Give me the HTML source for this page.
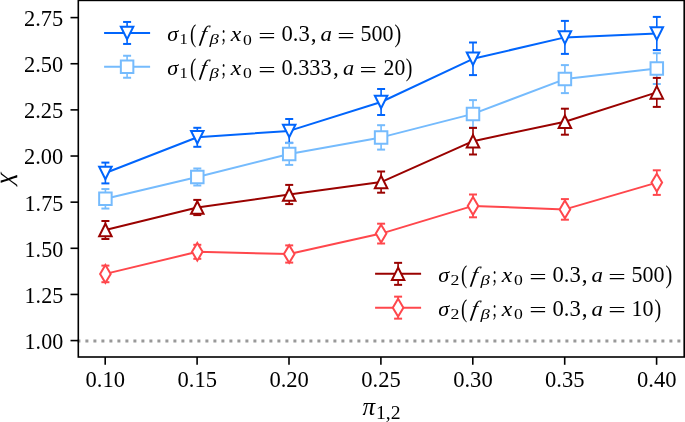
<!DOCTYPE html>
<html lang="en"><head><meta charset="utf-8"><title>chart</title>
<style>html,body{margin:0;padding:0;background:#fff;overflow:hidden}svg{display:block}</style>
</head><body>
<svg width="685" height="422" viewBox="0 0 685 422" style="will-change:transform">
<rect width="685" height="422" fill="#fff"/>
<path d="M77.4 340.93H684.2" stroke="#999" stroke-width="3" stroke-dasharray="3 5" fill="none"/>
<g>
<path d="M105.4 162.6V183.4" stroke="#0165fc" stroke-width="1.6" fill="none"/><path d="M101.4 162.6H109.4" stroke="#0165fc" stroke-width="2" fill="none"/><path d="M101.4 183.4H109.4" stroke="#0165fc" stroke-width="2" fill="none"/>
<path d="M197.3 127.8V146.8" stroke="#0165fc" stroke-width="1.6" fill="none"/><path d="M193.3 127.8H201.3" stroke="#0165fc" stroke-width="2" fill="none"/><path d="M193.3 146.8H201.3" stroke="#0165fc" stroke-width="2" fill="none"/>
<path d="M289.2 119V142.8" stroke="#0165fc" stroke-width="1.6" fill="none"/><path d="M285.2 119H293.2" stroke="#0165fc" stroke-width="2" fill="none"/><path d="M285.2 142.8H293.2" stroke="#0165fc" stroke-width="2" fill="none"/>
<path d="M381.1 89V115" stroke="#0165fc" stroke-width="1.6" fill="none"/><path d="M377.1 89H385.1" stroke="#0165fc" stroke-width="2" fill="none"/><path d="M377.1 115H385.1" stroke="#0165fc" stroke-width="2" fill="none"/>
<path d="M473 42.5V75.1" stroke="#0165fc" stroke-width="1.6" fill="none"/><path d="M469 42.5H477" stroke="#0165fc" stroke-width="2" fill="none"/><path d="M469 75.1H477" stroke="#0165fc" stroke-width="2" fill="none"/>
<path d="M564.9 20.9V53.9" stroke="#0165fc" stroke-width="1.6" fill="none"/><path d="M560.9 20.9H568.9" stroke="#0165fc" stroke-width="2" fill="none"/><path d="M560.9 53.9H568.9" stroke="#0165fc" stroke-width="2" fill="none"/>
<path d="M656.8 16.9V50.1" stroke="#0165fc" stroke-width="1.6" fill="none"/><path d="M652.8 16.9H660.8" stroke="#0165fc" stroke-width="2" fill="none"/><path d="M652.8 50.1H660.8" stroke="#0165fc" stroke-width="2" fill="none"/>
</g>
<g>
<path d="M105.4 189.05V208.55" stroke="#75bbfd" stroke-width="1.6" fill="none"/><path d="M101.4 189.05H109.4" stroke="#75bbfd" stroke-width="2" fill="none"/><path d="M101.4 208.55H109.4" stroke="#75bbfd" stroke-width="2" fill="none"/>
<path d="M197.3 168.5V185.5" stroke="#75bbfd" stroke-width="1.6" fill="none"/><path d="M193.3 168.5H201.3" stroke="#75bbfd" stroke-width="2" fill="none"/><path d="M193.3 185.5H201.3" stroke="#75bbfd" stroke-width="2" fill="none"/>
<path d="M289.2 143.1V164.9" stroke="#75bbfd" stroke-width="1.6" fill="none"/><path d="M285.2 143.1H293.2" stroke="#75bbfd" stroke-width="2" fill="none"/><path d="M285.2 164.9H293.2" stroke="#75bbfd" stroke-width="2" fill="none"/>
<path d="M381.1 125.2V149.6" stroke="#75bbfd" stroke-width="1.6" fill="none"/><path d="M377.1 125.2H385.1" stroke="#75bbfd" stroke-width="2" fill="none"/><path d="M377.1 149.6H385.1" stroke="#75bbfd" stroke-width="2" fill="none"/>
<path d="M473 100.1V127.7" stroke="#75bbfd" stroke-width="1.6" fill="none"/><path d="M469 100.1H477" stroke="#75bbfd" stroke-width="2" fill="none"/><path d="M469 127.7H477" stroke="#75bbfd" stroke-width="2" fill="none"/>
<path d="M564.9 65.1V93.1" stroke="#75bbfd" stroke-width="1.6" fill="none"/><path d="M560.9 65.1H568.9" stroke="#75bbfd" stroke-width="2" fill="none"/><path d="M560.9 93.1H568.9" stroke="#75bbfd" stroke-width="2" fill="none"/>
<path d="M656.8 53.2V84" stroke="#75bbfd" stroke-width="1.6" fill="none"/><path d="M652.8 53.2H660.8" stroke="#75bbfd" stroke-width="2" fill="none"/><path d="M652.8 84H660.8" stroke="#75bbfd" stroke-width="2" fill="none"/>
</g>
<g>
<path d="M105.4 221V239" stroke="#9a0200" stroke-width="1.6" fill="none"/><path d="M101.4 221H109.4" stroke="#9a0200" stroke-width="2" fill="none"/><path d="M101.4 239H109.4" stroke="#9a0200" stroke-width="2" fill="none"/>
<path d="M197.3 199.9V215.1" stroke="#9a0200" stroke-width="1.6" fill="none"/><path d="M193.3 199.9H201.3" stroke="#9a0200" stroke-width="2" fill="none"/><path d="M193.3 215.1H201.3" stroke="#9a0200" stroke-width="2" fill="none"/>
<path d="M289.2 184.9V204.1" stroke="#9a0200" stroke-width="1.6" fill="none"/><path d="M285.2 184.9H293.2" stroke="#9a0200" stroke-width="2" fill="none"/><path d="M285.2 204.1H293.2" stroke="#9a0200" stroke-width="2" fill="none"/>
<path d="M381.1 171.5V192.7" stroke="#9a0200" stroke-width="1.6" fill="none"/><path d="M377.1 171.5H385.1" stroke="#9a0200" stroke-width="2" fill="none"/><path d="M377.1 192.7H385.1" stroke="#9a0200" stroke-width="2" fill="none"/>
<path d="M473 127.9V154.5" stroke="#9a0200" stroke-width="1.6" fill="none"/><path d="M469 127.9H477" stroke="#9a0200" stroke-width="2" fill="none"/><path d="M469 154.5H477" stroke="#9a0200" stroke-width="2" fill="none"/>
<path d="M564.9 108.7V134.7" stroke="#9a0200" stroke-width="1.6" fill="none"/><path d="M560.9 108.7H568.9" stroke="#9a0200" stroke-width="2" fill="none"/><path d="M560.9 134.7H568.9" stroke="#9a0200" stroke-width="2" fill="none"/>
<path d="M656.8 77.9V106.9" stroke="#9a0200" stroke-width="1.6" fill="none"/><path d="M652.8 77.9H660.8" stroke="#9a0200" stroke-width="2" fill="none"/><path d="M652.8 106.9H660.8" stroke="#9a0200" stroke-width="2" fill="none"/>
</g>
<g>
<path d="M105.4 265.6V282.2" stroke="#ff474c" stroke-width="1.6" fill="none"/><path d="M101.4 265.6H109.4" stroke="#ff474c" stroke-width="2" fill="none"/><path d="M101.4 282.2H109.4" stroke="#ff474c" stroke-width="2" fill="none"/>
<path d="M197.3 244.8V258.8" stroke="#ff474c" stroke-width="1.6" fill="none"/><path d="M193.3 244.8H201.3" stroke="#ff474c" stroke-width="2" fill="none"/><path d="M193.3 258.8H201.3" stroke="#ff474c" stroke-width="2" fill="none"/>
<path d="M289.2 245.4V262.6" stroke="#ff474c" stroke-width="1.6" fill="none"/><path d="M285.2 245.4H293.2" stroke="#ff474c" stroke-width="2" fill="none"/><path d="M285.2 262.6H293.2" stroke="#ff474c" stroke-width="2" fill="none"/>
<path d="M381.1 223.7V243.5" stroke="#ff474c" stroke-width="1.6" fill="none"/><path d="M377.1 223.7H385.1" stroke="#ff474c" stroke-width="2" fill="none"/><path d="M377.1 243.5H385.1" stroke="#ff474c" stroke-width="2" fill="none"/>
<path d="M473 194.5V217.3" stroke="#ff474c" stroke-width="1.6" fill="none"/><path d="M469 194.5H477" stroke="#ff474c" stroke-width="2" fill="none"/><path d="M469 217.3H477" stroke="#ff474c" stroke-width="2" fill="none"/>
<path d="M564.9 199.1V219.7" stroke="#ff474c" stroke-width="1.6" fill="none"/><path d="M560.9 199.1H568.9" stroke="#ff474c" stroke-width="2" fill="none"/><path d="M560.9 219.7H568.9" stroke="#ff474c" stroke-width="2" fill="none"/>
<path d="M656.8 170.3V194.9" stroke="#ff474c" stroke-width="1.6" fill="none"/><path d="M652.8 170.3H660.8" stroke="#ff474c" stroke-width="2" fill="none"/><path d="M652.8 194.9H660.8" stroke="#ff474c" stroke-width="2" fill="none"/>
</g>
<g>
<polyline points="105.4,173 197.3,137.3 289.2,130.9 381.1,102 473,58.8 564.9,37.4 656.8,33.5" fill="none" stroke="#0165fc" stroke-width="2" stroke-linejoin="round"/>
<polygon points="105.4,179.25 99.15,166.75 111.65,166.75" fill="#fff" stroke="#0165fc" stroke-width="2" stroke-linejoin="miter" stroke-miterlimit="10"/>
<polygon points="197.3,143.55 191.05,131.05 203.55,131.05" fill="#fff" stroke="#0165fc" stroke-width="2" stroke-linejoin="miter" stroke-miterlimit="10"/>
<polygon points="289.2,137.15 282.95,124.65 295.45,124.65" fill="#fff" stroke="#0165fc" stroke-width="2" stroke-linejoin="miter" stroke-miterlimit="10"/>
<polygon points="381.1,108.25 374.85,95.75 387.35,95.75" fill="#fff" stroke="#0165fc" stroke-width="2" stroke-linejoin="miter" stroke-miterlimit="10"/>
<polygon points="473,65.05 466.75,52.55 479.25,52.55" fill="#fff" stroke="#0165fc" stroke-width="2" stroke-linejoin="miter" stroke-miterlimit="10"/>
<polygon points="564.9,43.65 558.65,31.15 571.15,31.15" fill="#fff" stroke="#0165fc" stroke-width="2" stroke-linejoin="miter" stroke-miterlimit="10"/>
<polygon points="656.8,39.75 650.55,27.25 663.05,27.25" fill="#fff" stroke="#0165fc" stroke-width="2" stroke-linejoin="miter" stroke-miterlimit="10"/>
</g>
<g>
<polyline points="105.4,198.8 197.3,177 289.2,154 381.1,137.4 473,113.9 564.9,79.1 656.8,68.6" fill="none" stroke="#75bbfd" stroke-width="2" stroke-linejoin="round"/>
<polygon points="99.15,192.55 111.65,192.55 111.65,205.05 99.15,205.05" fill="#fff" stroke="#75bbfd" stroke-width="2" stroke-linejoin="miter" stroke-miterlimit="10"/>
<polygon points="191.05,170.75 203.55,170.75 203.55,183.25 191.05,183.25" fill="#fff" stroke="#75bbfd" stroke-width="2" stroke-linejoin="miter" stroke-miterlimit="10"/>
<polygon points="282.95,147.75 295.45,147.75 295.45,160.25 282.95,160.25" fill="#fff" stroke="#75bbfd" stroke-width="2" stroke-linejoin="miter" stroke-miterlimit="10"/>
<polygon points="374.85,131.15 387.35,131.15 387.35,143.65 374.85,143.65" fill="#fff" stroke="#75bbfd" stroke-width="2" stroke-linejoin="miter" stroke-miterlimit="10"/>
<polygon points="466.75,107.65 479.25,107.65 479.25,120.15 466.75,120.15" fill="#fff" stroke="#75bbfd" stroke-width="2" stroke-linejoin="miter" stroke-miterlimit="10"/>
<polygon points="558.65,72.85 571.15,72.85 571.15,85.35 558.65,85.35" fill="#fff" stroke="#75bbfd" stroke-width="2" stroke-linejoin="miter" stroke-miterlimit="10"/>
<polygon points="650.55,62.35 663.05,62.35 663.05,74.85 650.55,74.85" fill="#fff" stroke="#75bbfd" stroke-width="2" stroke-linejoin="miter" stroke-miterlimit="10"/>
</g>
<g>
<polyline points="105.4,230 197.3,207.5 289.2,194.5 381.1,182.1 473,141.2 564.9,121.7 656.8,92.4" fill="none" stroke="#9a0200" stroke-width="2" stroke-linejoin="round"/>
<polygon points="105.4,223.75 99.15,236.25 111.65,236.25" fill="#fff" stroke="#9a0200" stroke-width="2" stroke-linejoin="miter" stroke-miterlimit="10"/>
<polygon points="197.3,201.25 191.05,213.75 203.55,213.75" fill="#fff" stroke="#9a0200" stroke-width="2" stroke-linejoin="miter" stroke-miterlimit="10"/>
<polygon points="289.2,188.25 282.95,200.75 295.45,200.75" fill="#fff" stroke="#9a0200" stroke-width="2" stroke-linejoin="miter" stroke-miterlimit="10"/>
<polygon points="381.1,175.85 374.85,188.35 387.35,188.35" fill="#fff" stroke="#9a0200" stroke-width="2" stroke-linejoin="miter" stroke-miterlimit="10"/>
<polygon points="473,134.95 466.75,147.45 479.25,147.45" fill="#fff" stroke="#9a0200" stroke-width="2" stroke-linejoin="miter" stroke-miterlimit="10"/>
<polygon points="564.9,115.45 558.65,127.95 571.15,127.95" fill="#fff" stroke="#9a0200" stroke-width="2" stroke-linejoin="miter" stroke-miterlimit="10"/>
<polygon points="656.8,86.15 650.55,98.65 663.05,98.65" fill="#fff" stroke="#9a0200" stroke-width="2" stroke-linejoin="miter" stroke-miterlimit="10"/>
</g>
<g>
<polyline points="105.4,273.9 197.3,251.8 289.2,254 381.1,233.6 473,205.9 564.9,209.4 656.8,182.6" fill="none" stroke="#ff474c" stroke-width="2" stroke-linejoin="round"/>
<polygon points="105.4,265.06 110.7,273.9 105.4,282.74 100.1,273.9" fill="#fff" stroke="#ff474c" stroke-width="2" stroke-linejoin="miter" stroke-miterlimit="10"/>
<polygon points="197.3,242.96 202.6,251.8 197.3,260.64 192,251.8" fill="#fff" stroke="#ff474c" stroke-width="2" stroke-linejoin="miter" stroke-miterlimit="10"/>
<polygon points="289.2,245.16 294.5,254 289.2,262.84 283.9,254" fill="#fff" stroke="#ff474c" stroke-width="2" stroke-linejoin="miter" stroke-miterlimit="10"/>
<polygon points="381.1,224.76 386.4,233.6 381.1,242.44 375.8,233.6" fill="#fff" stroke="#ff474c" stroke-width="2" stroke-linejoin="miter" stroke-miterlimit="10"/>
<polygon points="473,197.06 478.3,205.9 473,214.74 467.7,205.9" fill="#fff" stroke="#ff474c" stroke-width="2" stroke-linejoin="miter" stroke-miterlimit="10"/>
<polygon points="564.9,200.56 570.2,209.4 564.9,218.24 559.6,209.4" fill="#fff" stroke="#ff474c" stroke-width="2" stroke-linejoin="miter" stroke-miterlimit="10"/>
<polygon points="656.8,173.76 662.1,182.6 656.8,191.44 651.5,182.6" fill="#fff" stroke="#ff474c" stroke-width="2" stroke-linejoin="miter" stroke-miterlimit="10"/>
</g>
<g stroke="#000" stroke-width="1.6" fill="none">
<path d="M105.2 357v7.8"/>
<path d="M197.1 357v7.8"/>
<path d="M289 357v7.8"/>
<path d="M380.9 357v7.8"/>
<path d="M472.8 357v7.8"/>
<path d="M564.7 357v7.8"/>
<path d="M656.6 357v7.8"/>
<path d="M78.3 17.6h-7.8"/>
<path d="M78.3 63.74h-7.8"/>
<path d="M78.3 109.88h-7.8"/>
<path d="M78.3 156.02h-7.8"/>
<path d="M78.3 202.16h-7.8"/>
<path d="M78.3 248.3h-7.8"/>
<path d="M78.3 294.44h-7.8"/>
<path d="M78.3 340.58h-7.8"/>
<rect x="78.3" y="0.4" width="605.9" height="356.6" stroke-linejoin="miter"/>
</g>
<g font-family="'Liberation Serif', serif" fill="#000" style="filter:grayscale(1)">
<text transform="translate(85.59 387.3) scale(1.0266 1.06)" font-size="22" style="">0.10</text>
<text transform="translate(177.49 387.3) scale(1.0266 1.06)" font-size="22" style="">0.15</text>
<text transform="translate(269.39 387.3) scale(1.0266 1.06)" font-size="22" style="">0.20</text>
<text transform="translate(361.29 387.3) scale(1.0266 1.06)" font-size="22" style="">0.25</text>
<text transform="translate(453.19 387.3) scale(1.0266 1.06)" font-size="22" style="">0.30</text>
<text transform="translate(545.09 387.3) scale(1.0266 1.06)" font-size="22" style="">0.35</text>
<text transform="translate(636.99 387.3) scale(1.0266 1.06)" font-size="22" style="">0.40</text>
<text transform="translate(23.98 26) scale(1.0189 1.06)" font-size="22" style="">2.75</text>
<text transform="translate(23.98 72.14) scale(1.0189 1.06)" font-size="22" style="">2.50</text>
<text transform="translate(23.98 118.28) scale(1.0189 1.06)" font-size="22" style="">2.25</text>
<text transform="translate(23.98 164.42) scale(1.0189 1.06)" font-size="22" style="">2.00</text>
<text transform="translate(24.59 210.56) scale(1.0028 1.06)" font-size="22" style="">1.75</text>
<text transform="translate(24.59 256.7) scale(1.0028 1.06)" font-size="22" style="">1.50</text>
<text transform="translate(24.59 302.84) scale(1.0028 1.06)" font-size="22" style="">1.25</text>
<text transform="translate(24.59 348.98) scale(1.0028 1.06)" font-size="22" style="">1.00</text>
<g><text transform="translate(167.30 41.1) scale(1.0083 1)" font-size="22" style="font-style:italic;">σ</text><text transform="translate(179.53 44.3) scale(1.0667 1)" font-size="15.4" style="">1</text><text transform="translate(189.95 41.9) scale(0.8500 1.17)" font-size="22" style="">(</text><text transform="translate(199.34 41.1) scale(1.0417 1) skewX(-9)" font-size="22" style="font-style:italic;">f</text><text transform="translate(209.39 44.3) scale(1.2143 1)" font-size="15.4" style="font-style:italic;">β</text><text transform="translate(221.50 41.4) scale(0.7000 1.06)" font-size="22" style="">;</text><text transform="translate(230.80 41.1) scale(1.0797 1)" font-size="22" style="font-style:italic;">x</text><text transform="translate(243.00 44.5) scale(1.1475 1)" font-size="15.4" style="">0</text><text transform="translate(258.30 42.7) scale(1.4000 1)" font-size="22" style="">=</text><text transform="translate(281.39 41.4) scale(1.0301 1.06)" font-size="22" style="">0.3</text><text transform="translate(310.63 41.4) scale(1.0532 1.06)" font-size="22" style="">,</text><text transform="translate(320.50 41.1) scale(1.0426 1)" font-size="22" style="font-style:italic;">a</text><text transform="translate(337.29 42.7) scale(1.4091 1)" font-size="22" style="">=</text><text transform="translate(360.60 41.4) scale(0.9998 1.06)" font-size="22" style="">500</text><text transform="translate(394.56 41.9) scale(0.9194 1.17)" font-size="22" style="">)</text></g>
<g><text transform="translate(167.30 74.9) scale(1.0083 1)" font-size="22" style="font-style:italic;">σ</text><text transform="translate(179.53 78.1) scale(1.0667 1)" font-size="15.4" style="">1</text><text transform="translate(189.95 75.7) scale(0.8500 1.17)" font-size="22" style="">(</text><text transform="translate(199.34 74.9) scale(1.0417 1) skewX(-9)" font-size="22" style="font-style:italic;">f</text><text transform="translate(209.39 78.1) scale(1.2143 1)" font-size="15.4" style="font-style:italic;">β</text><text transform="translate(221.50 75.2) scale(0.7000 1.06)" font-size="22" style="">;</text><text transform="translate(230.80 74.9) scale(1.0797 1)" font-size="22" style="font-style:italic;">x</text><text transform="translate(243.00 78.3) scale(1.1475 1)" font-size="15.4" style="">0</text><text transform="translate(258.30 76.5) scale(1.4000 1)" font-size="22" style="">=</text><text transform="translate(281.40 75.2) scale(1.0143 1.06)" font-size="22" style="">0.333</text><text transform="translate(332.93 75.2) scale(1.0532 1.06)" font-size="22" style="">,</text><text transform="translate(342.90 74.9) scale(1.0129 1)" font-size="22" style="font-style:italic;">a</text><text transform="translate(359.60 76.5) scale(1.4000 1)" font-size="22" style="">=</text><text transform="translate(383.62 75.2) scale(0.9848 1.06)" font-size="22" style="">20</text><text transform="translate(405.68 75.7) scale(0.9032 1.17)" font-size="22" style="">)</text></g>
<g><text transform="translate(438.30 281.9) scale(1.0083 1)" font-size="22" style="font-style:italic;">σ</text><text transform="translate(450.50 285.1) scale(1.1571 1)" font-size="15.4" style="">2</text><text transform="translate(460.95 282.7) scale(0.8500 1.17)" font-size="22" style="">(</text><text transform="translate(470.34 281.9) scale(1.0417 1) skewX(-9)" font-size="22" style="font-style:italic;">f</text><text transform="translate(480.39 285.1) scale(1.2143 1)" font-size="15.4" style="font-style:italic;">β</text><text transform="translate(492.50 282.2) scale(0.7000 1.06)" font-size="22" style="">;</text><text transform="translate(501.80 281.9) scale(1.0797 1)" font-size="22" style="font-style:italic;">x</text><text transform="translate(514.00 285.3) scale(1.1475 1)" font-size="15.4" style="">0</text><text transform="translate(529.30 283.5) scale(1.4000 1)" font-size="22" style="">=</text><text transform="translate(552.39 282.2) scale(1.0301 1.06)" font-size="22" style="">0.3</text><text transform="translate(581.63 282.2) scale(1.0532 1.06)" font-size="22" style="">,</text><text transform="translate(591.50 281.9) scale(1.0426 1)" font-size="22" style="font-style:italic;">a</text><text transform="translate(608.29 283.5) scale(1.4091 1)" font-size="22" style="">=</text><text transform="translate(631.60 282.2) scale(0.9998 1.06)" font-size="22" style="">500</text><text transform="translate(665.56 282.7) scale(0.9194 1.17)" font-size="22" style="">)</text></g>
<g><text transform="translate(438.30 315.7) scale(1.0083 1)" font-size="22" style="font-style:italic;">σ</text><text transform="translate(450.50 318.9) scale(1.1571 1)" font-size="15.4" style="">2</text><text transform="translate(460.95 316.5) scale(0.8500 1.17)" font-size="22" style="">(</text><text transform="translate(470.34 315.7) scale(1.0417 1) skewX(-9)" font-size="22" style="font-style:italic;">f</text><text transform="translate(480.39 318.9) scale(1.2143 1)" font-size="15.4" style="font-style:italic;">β</text><text transform="translate(492.50 316) scale(0.7000 1.06)" font-size="22" style="">;</text><text transform="translate(501.80 315.7) scale(1.0797 1)" font-size="22" style="font-style:italic;">x</text><text transform="translate(514.00 319.1) scale(1.1475 1)" font-size="15.4" style="">0</text><text transform="translate(529.30 317.3) scale(1.4000 1)" font-size="22" style="">=</text><text transform="translate(552.39 316) scale(1.0301 1.06)" font-size="22" style="">0.3</text><text transform="translate(581.63 316) scale(1.0532 1.06)" font-size="22" style="">,</text><text transform="translate(591.50 315.7) scale(1.0426 1)" font-size="22" style="font-style:italic;">a</text><text transform="translate(608.29 317.3) scale(1.4091 1)" font-size="22" style="">=</text><text transform="translate(631.39 316) scale(1.0049 1.06)" font-size="22" style="">10</text><text transform="translate(654.56 316.5) scale(0.9194 1.17)" font-size="22" style="">)</text></g>
<g><text transform="translate(362.40 414.8) scale(0.9714 0.96)" font-size="26" style="font-style:italic;">π</text><text transform="translate(375.97 419.1) scale(1.0788 1)" font-size="18.2" style="">1,2</text></g>
<text transform="translate(11.6 173.9) rotate(-90) scale(1.03 0.95) skewX(-12) scale(-1 1)" font-size="26">χ</text>
</g>
<path d="M104.1 32.95H150.1" stroke="#0165fc" stroke-width="2" stroke-linecap="butt" fill="none"/><path d="M127.1 21.95V43.95" stroke="#0165fc" stroke-width="1.6" fill="none"/><path d="M123.1 21.95H131.1" stroke="#0165fc" stroke-width="2" fill="none"/><path d="M123.1 43.95H131.1" stroke="#0165fc" stroke-width="2" fill="none"/><polygon points="127.1,39.2 120.85,26.7 133.35,26.7" fill="#fff" stroke="#0165fc" stroke-width="2" stroke-linejoin="miter" stroke-miterlimit="10"/>
<path d="M104.1 66.75H150.1" stroke="#75bbfd" stroke-width="2" stroke-linecap="butt" fill="none"/><path d="M127.1 55.75V77.75" stroke="#75bbfd" stroke-width="1.6" fill="none"/><path d="M123.1 55.75H131.1" stroke="#75bbfd" stroke-width="2" fill="none"/><path d="M123.1 77.75H131.1" stroke="#75bbfd" stroke-width="2" fill="none"/><polygon points="120.85,60.5 133.35,60.5 133.35,73 120.85,73" fill="#fff" stroke="#75bbfd" stroke-width="2" stroke-linejoin="miter" stroke-miterlimit="10"/>
<path d="M375.1 273.85H421.1" stroke="#9a0200" stroke-width="2" stroke-linecap="butt" fill="none"/><path d="M398.1 262.85V284.85" stroke="#9a0200" stroke-width="1.6" fill="none"/><path d="M394.1 262.85H402.1" stroke="#9a0200" stroke-width="2" fill="none"/><path d="M394.1 284.85H402.1" stroke="#9a0200" stroke-width="2" fill="none"/><polygon points="398.1,267.6 391.85,280.1 404.35,280.1" fill="#fff" stroke="#9a0200" stroke-width="2" stroke-linejoin="miter" stroke-miterlimit="10"/>
<path d="M375.1 307.65H421.1" stroke="#ff474c" stroke-width="2" stroke-linecap="butt" fill="none"/><path d="M398.1 296.65V318.65" stroke="#ff474c" stroke-width="1.6" fill="none"/><path d="M394.1 296.65H402.1" stroke="#ff474c" stroke-width="2" fill="none"/><path d="M394.1 318.65H402.1" stroke="#ff474c" stroke-width="2" fill="none"/><polygon points="398.1,298.81 403.4,307.65 398.1,316.49 392.8,307.65" fill="#fff" stroke="#ff474c" stroke-width="2" stroke-linejoin="miter" stroke-miterlimit="10"/>
</svg>
</body></html>
